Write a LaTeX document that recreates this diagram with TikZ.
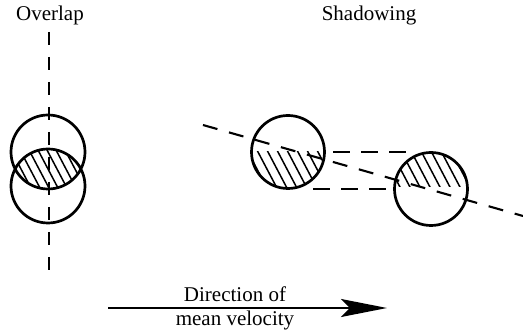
\documentclass[tikz,border=0pt]{standalone}
\usepackage{fontspec}
\setmainfont{Liberation Serif}
\usetikzlibrary{arrows.meta}
\tikzset{>=Stealth,every node/.style={font=\fontsize{21}{24}\selectfont},
 grain/.style={line width=2.7pt},hatch/.style={line width=1.5pt},
 trace/.style={line width=2.1pt,dash pattern=on 13pt off 12pt},
 flow/.style={line width=2.2pt,-{Stealth[length=46pt,width=18pt,inset=9pt]}}}
\begin{document}
\begin{tikzpicture}[x=1pt,y=-1pt]
\useasboundingbox (0,0) rectangle (523,336);
% Titres des deux cas.
\node[anchor=base] (olap) at (50,21){Overlap};
\node[anchor=base] (shad) at (369,21){Shadowing};
% Recouvrement : deux grains sur la meme verticale.
\coordinate (ot) at (48,152);
\coordinate (ob) at (48,186);
\begin{scope}
\clip (ot) circle (37);
\clip (ob) circle (37);
\foreach \k in {-80,-71,...,80}
 \draw[hatch,shift={(ot)}] (\k-40,-40) -- ++(80,152);
\end{scope}
\draw[grain] (ot) circle (37) (ob) circle (37);
\coordinate (vt) at (49,32);
\coordinate (vb) at (49,280);
\draw[trace] (vt) -- (vb);
% Ombrage : deux grains decales suivant la ligne pointillee.
\coordinate (sa) at (288,152);
\coordinate (sb) at (431,189);
\begin{scope}
\clip (sa) circle (36.5);
\clip (sa) ++(-40,0) rectangle ++(80,40);
\foreach \k in {-80,-70,...,80}
 \draw[hatch,shift={(sa)}] (\k-40,-76) -- ++(80,152);
\end{scope}
\begin{scope}
\clip (sb) circle (36.5);
\clip (sb) ++(-40,-2) rectangle ++(80,-40);
\foreach \k in {-80,-70,...,80}
 \draw[hatch,shift={(sb)}] (\k-40,-76) -- ++(80,152);
\end{scope}
\draw[grain] (sa) circle (36.5) (sb) circle (36.5);
\coordinate (da) at (203,125);
\coordinate (db) at (523,216);
\draw[trace,dash pattern=on 15pt off 12pt] (da) -- (db);
\coordinate (ha) at (333,152);
\coordinate (hb) at (408,152);
\coordinate (la) at (313,189);
\coordinate (lb) at (386,189);
\draw[trace,dash pattern=on 17pt off 11pt] (ha) -- (hb) (la) -- (lb);
% Sens de la vitesse moyenne.
\coordinate (fa) at (108,308);
\coordinate (fb) at (387,308);
\draw[flow] (fa) -- (fb);
\node[anchor=base] (dir) at (235,302){Direction of};
\node[anchor=base] (vel) at (235,326){mean velocity};
\end{tikzpicture}
\end{document}
